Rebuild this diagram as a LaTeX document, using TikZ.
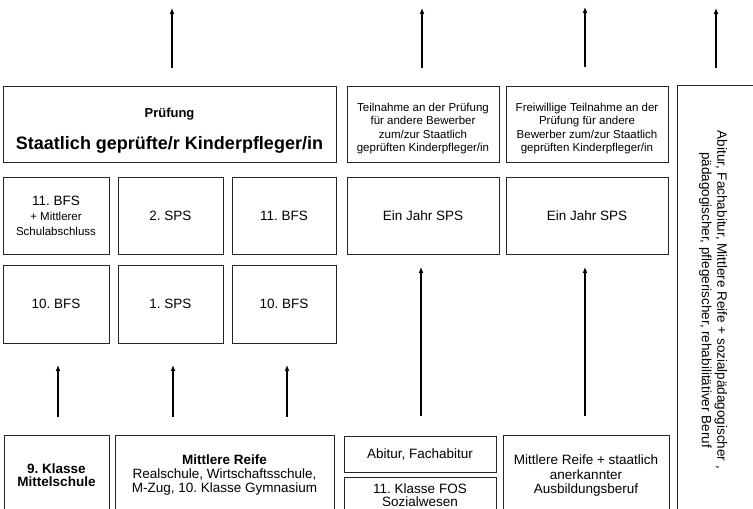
\documentclass[tikz,border=0pt]{standalone}
\usepackage{fontspec}
\setmainfont{Liberation Sans}
\usetikzlibrary{arrows.meta}
\frenchspacing

\tikzset{
  box/.style={draw=black!85, line width=0.9pt, align=center, inner sep=2pt, font=\fontsize{13.5}{14.5}\selectfont},
  klein/.style={font=\fontsize{11.5}{13.5}\selectfont},
  hoch/.style={-{Latex[length=6pt,width=5pt]}, line width=1.8pt},
}

\begin{document}
\begin{tikzpicture}[x=1pt,y=1pt]

\useasboundingbox (0,0) rectangle (753,509);
\clip (0,0) rectangle (753,509);

\node [box, minimum width=333pt, minimum height=75.5pt] (pruef) at (169.5,384.75)
  {{\fontsize{13}{15}\selectfont\bfseries\rule{0pt}{22pt}Prüfung}\\[15pt]{\fontsize{18}{21}\selectfont\bfseries Staatlich geprüfte/r Kinderpfleger/in}};
\node [box, klein, minimum width=152pt, minimum height=75.5pt] (teil) at (423,384.75)
  {\rule{0pt}{17pt}Teilnahme an der Prüfung\\für andere Bewerber\\zum/zur Staatlich\\geprüften Kinderpfleger/in};
\node [box, klein, minimum width=162pt, minimum height=75.5pt] (frei) at (587,384.75)
  {\rule{0pt}{17pt}Freiwillige Teilnahme an der\\Prüfung für andere\\Bewerber zum/zur Staatlich\\geprüften Kinderpfleger/in};

\node [box, minimum width=106pt, minimum height=77pt] (bfs11a) at (56,293.5)
  {11. BFS\\[1pt]{\fontsize{11.5}{12}\selectfont + Mittlerer}\\{\fontsize{11.5}{12}\selectfont Schulabschluss}};
\node [box, minimum width=105pt, minimum height=77pt] (sps2) at (170.5,293.5) {2. SPS};
\node [box, minimum width=104pt, minimum height=77pt] (bfs11b) at (284,293.5) {11. BFS};
\node [box, minimum width=152pt, minimum height=77pt] (jahra) at (423,293.5) {Ein Jahr SPS};
\node [box, minimum width=162pt, minimum height=77pt] (jahrb) at (587,293.5) {Ein Jahr SPS};

\node [box, minimum width=106pt, minimum height=78pt] (bfs10a) at (56,205) {10. BFS};
\node [box, minimum width=105pt, minimum height=78pt] (sps1) at (170.5,205) {1. SPS};
\node [box, minimum width=104pt, minimum height=78pt] (bfs10b) at (284,205) {10. BFS};

\node [box, font=\fontsize{13.5}{13.5}\selectfont, minimum width=105pt, minimum height=80pt] (ms) at (56.5,34)
  {\bfseries 9. Klasse\\\bfseries Mittelschule};
\node [box, font=\fontsize{13.5}{14}\selectfont, minimum width=219pt, minimum height=80pt] (mr) at (224.5,34)
  {\bfseries Mittlere Reife\\Realschule, Wirtschaftsschule,\\M-Zug, 10. Klasse Gymnasium};
\node [box, minimum width=152pt, minimum height=36pt] (abi) at (420,55) {Abitur, Fachabitur};
\node [box, font=\fontsize{13.5}{13.5}\selectfont, minimum width=152pt, minimum height=36pt] (fos) at (420,14) {11. Klasse FOS\\Sozialwesen};
\node [box, minimum width=166pt, minimum height=82pt] (beruf) at (586,33)
  {Mittlere Reife + staatlich\\anerkannter\\Ausbildungsberuf};

\draw [draw=black!85, line width=0.9pt] (677,424) rectangle (790,-20);
\node [rotate=-90, align=center, font=\fontsize{13.5}{15.5}\selectfont] (quer) at (713,209)
  {Abitur, Fachabitur, Mittlere Reife + sozialpädagogischer ,\\pädagogischer, pflegerischer, rehabilitätiver Beruf};

\coordinate (s1) at (172,441);
\coordinate (e1) at (172,501);
\coordinate (s2) at (422,441);
\coordinate (e2) at (422,501);
\coordinate (s3) at (585,442);
\coordinate (e3) at (585,502);
\coordinate (s4) at (716,441);
\coordinate (e4) at (716,501);

\coordinate (s5) at (58,92);
\coordinate (e5) at (58,144);
\coordinate (s6) at (173,92);
\coordinate (e6) at (173,144);
\coordinate (s7) at (287,92);
\coordinate (e7) at (287,144);

\coordinate (s8) at (421,93);
\coordinate (e8) at (421,242);
\coordinate (s9) at (585,93);
\coordinate (e9) at (585,242);

\draw [hoch] (s1)--(e1);
\draw [hoch] (s2)--(e2);
\draw [hoch] (s3)--(e3);
\draw [hoch] (s4)--(e4);
\draw [hoch] (s5)--(e5);
\draw [hoch] (s6)--(e6);
\draw [hoch] (s7)--(e7);
\draw [hoch] (s8)--(e8);
\draw [hoch] (s9)--(e9);
\end{tikzpicture}
\end{document}
